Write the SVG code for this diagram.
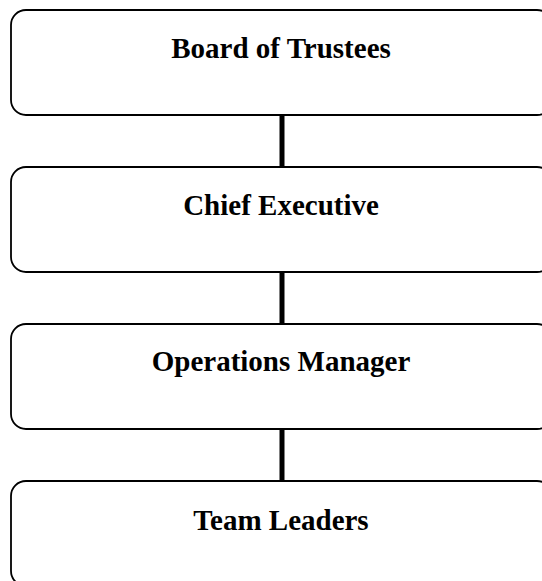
<svg xmlns="http://www.w3.org/2000/svg" width="542" height="581" viewBox="0 0 542 581">
<style>
.box{fill:#fff;stroke:#000;stroke-width:1.8}
.lbl{font-family:"Liberation Serif","Times New Roman",serif;font-weight:bold;font-size:29px;fill:#000;text-anchor:middle}
.conn{stroke:#000;stroke-width:5;fill:none}
</style>
<rect width="542" height="581" fill="#fff"/>
<g id="connectors">
<line class="conn" x1="282" y1="115" x2="282" y2="167"/>
<line class="conn" x1="282" y1="272" x2="282" y2="324"/>
<line class="conn" x1="282" y1="429" x2="282" y2="481"/>
</g>
<g id="board">
<rect class="box" x="11" y="10" width="541" height="105" rx="15"/>
<text class="lbl" x="281" y="58">Board of Trustees</text>
</g>
<g id="chief">
<rect class="box" x="11" y="167" width="541" height="105" rx="15"/>
<text class="lbl" x="281" y="215">Chief Executive</text>
</g>
<g id="operations">
<rect class="box" x="11" y="324" width="541" height="105" rx="15"/>
<text class="lbl" x="281" y="371">Operations Manager</text>
</g>
<g id="team">
<rect class="box" x="11" y="481" width="541" height="105" rx="15"/>
<text class="lbl" x="281" y="530">Team Leaders</text>
</g>
</svg>
